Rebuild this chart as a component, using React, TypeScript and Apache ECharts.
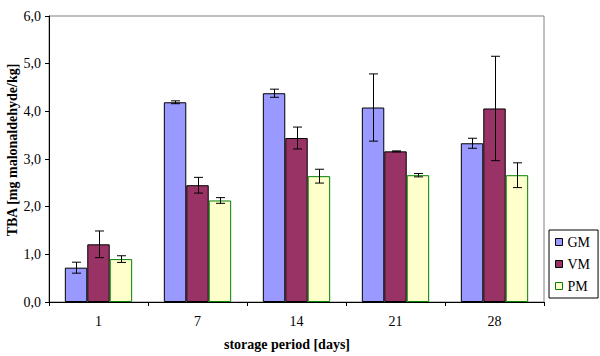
import React, { useEffect, useRef } from "react";
import * as echarts from "echarts";

const categories = ["1", "7", "14", "21", "28"];
const seriesNames = ["GM", "VM", "PM"];
const gm = [0.72, 4.19, 4.38, 4.08, 3.33];
const vm = [1.21, 2.45, 3.44, 3.16, 4.06];
const pm = [0.9, 2.13, 2.64, 2.66, 2.66];
const gmErr = [0.115, 0.03, 0.085, 0.705, 0.105];
const vmErr = [0.28, 0.165, 0.23, 0.01, 1.095];
const pmErr = [0.07, 0.06, 0.145, 0.035, 0.26];
const yTicks = [0, 1, 2, 3, 4, 5, 6];

const FONT = "'Liberation Serif', 'Times New Roman', serif";
const GAP = 0.32;

export default function App() {
  const ref = useRef<HTMLDivElement>(null);
  useEffect(() => {
    if (!ref.current) return;
    const chart = echarts.init(ref.current, undefined, { renderer: "svg" });
    const values = [gm, vm, pm];
    const errs = [gmErr, vmErr, pmErr];
    const fills = ["#9999FF", "#993366", "#FFFFCC"];
    const borders = ["#000000", "#000000", "#008000"];
    const errData: number[][] = [];
    values.forEach((arr, s) => {
      arr.forEach((v, c) => {
        errData.push([c, v - errs[s][c], v + errs[s][c], s]);
      });
    });
    chart.setOption({
      animation: false,
      backgroundColor: "#ffffff",
      textStyle: { fontFamily: FONT },
      grid: {
        left: 49,
        right: 56,
        top: 16,
        bottom: 54,
        show: true,
        borderColor: "#808080",
        borderWidth: 1,
        backgroundColor: "transparent",
      },
      legend: {
        orient: "vertical",
        left: 549,
        top: 230,
        width: 48,
        borderColor: "#000",
        borderWidth: 1,
        padding: [5, 8, 5, 6],
        itemWidth: 7,
        itemHeight: 7,
        itemGap: 8,
        icon: "rect",
        textStyle: { fontFamily: FONT, fontSize: 14, color: "#000" },
        data: seriesNames.map((n, i) => ({
          name: n,
          itemStyle: { color: fills[i], borderColor: borders[i], borderWidth: 1 },
        })),
      },
      xAxis: {
        type: "category",
        data: categories,
        axisLine: { lineStyle: { color: "#000", width: 1 } },
        axisTick: { show: true, alignWithLabel: false, length: 4, inside: false, lineStyle: { color: "#000" } },
        axisLabel: { fontFamily: FONT, fontSize: 14, color: "#000", margin: 12 },
        splitLine: { show: false },
      },
      yAxis: {
        type: "value",
        min: yTicks[0],
        max: yTicks[yTicks.length - 1],
        interval: 1,
        axisLine: { show: true, lineStyle: { color: "#000", width: 1 } },
        axisTick: { show: true, length: 4, lineStyle: { color: "#000" } },
        axisLabel: {
          fontFamily: FONT,
          fontSize: 14,
          color: "#000",
          margin: 8,
          formatter: (v: number) => v.toFixed(1).replace(".", ","),
        },
        splitLine: { show: false },
      },
      graphic: [
        {
          type: "text",
          x: 12,
          y: 150,
          rotation: Math.PI / 2,
          style: {
            text: "TBA [mg malonaldehyde/kg]",
            font: `bold 14px ${FONT}`,
            fill: "#000",
            textAlign: "center",
            textVerticalAlign: "middle",
          },
        },
        {
          type: "text",
          x: 287,
          y: 344,
          style: {
            text: "storage period [days]",
            font: `bold 14px ${FONT}`,
            fill: "#000",
            textAlign: "center",
            textVerticalAlign: "middle",
          },
        },
      ],
      series: [
        ...seriesNames.map((n, i) => ({
          name: n,
          type: "bar",
          data: values[i],
          barGap: "0%",
          barCategoryGap: `${GAP * 100}%`,
          itemStyle: { color: fills[i], borderColor: borders[i], borderWidth: 1 },
        })),
        {
          type: "custom",
          name: "err",
          data: errData,
          encode: { x: 0, y: [1, 2] },
          z: 10,
          silent: true,
          renderItem: (params: any, api: any) => {
            const c = api.value(0);
            const lo = api.value(1);
            const hi = api.value(2);
            const s = api.value(3);
            const band = api.size([1, 0])[0];
            const barW = (band * (1 - GAP)) / 3;
            const pLo = api.coord([c, lo]);
            const pHi = api.coord([c, hi]);
            const x = Math.round(pLo[0] + (s - 1) * barW) + 0.5;
            const cap = 4.5;
            const st = { stroke: "#000", lineWidth: 1 };
            return {
              type: "group",
              children: [
                { type: "line", shape: { x1: x, y1: pHi[1], x2: x, y2: pLo[1] }, style: st },
                { type: "line", shape: { x1: x - cap, y1: pHi[1], x2: x + cap, y2: pHi[1] }, style: st },
                { type: "line", shape: { x1: x - cap, y1: pLo[1], x2: x + cap, y2: pLo[1] }, style: st },
              ],
            };
          },
        },
      ],
    });
    return () => chart.dispose();
  }, []);
  return <div ref={ref} style={{ width: 600, height: 356, position: "absolute", left: 0, top: 0 }} />;
}
